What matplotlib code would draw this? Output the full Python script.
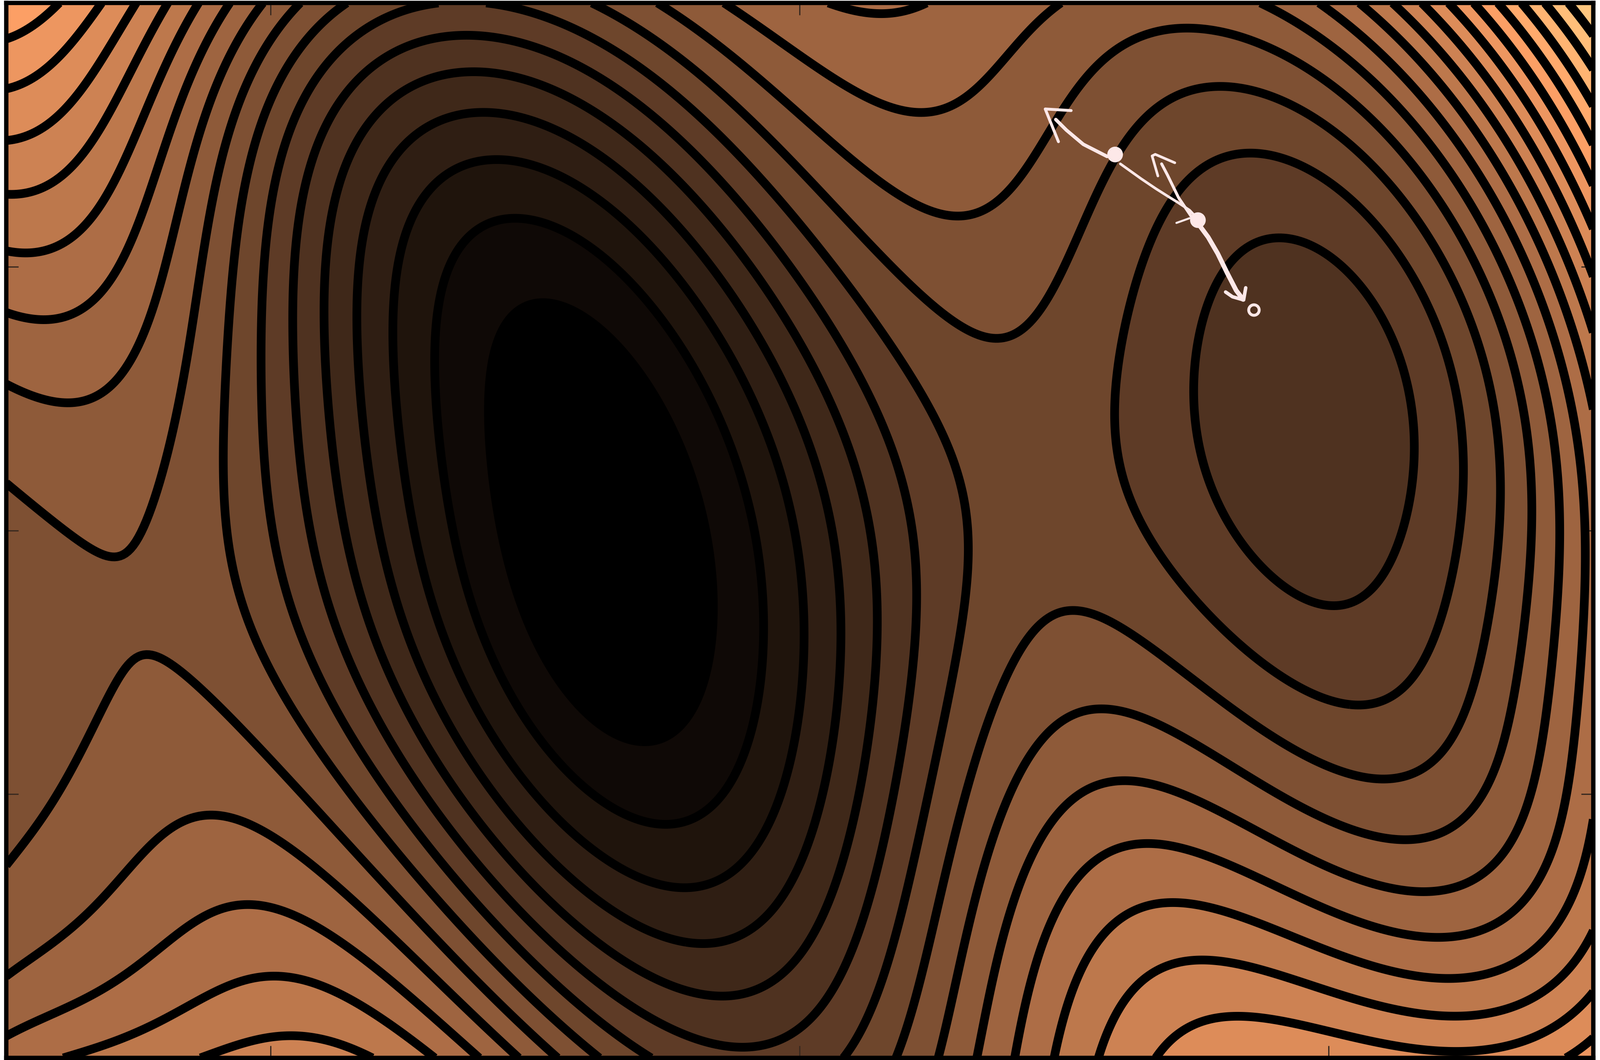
import numpy as np
import matplotlib
matplotlib.use("Agg")
import matplotlib.pyplot as plt

# ---------------- data ----------------
# contour crossings (x, y, level index); level spacing = 1, 20 drawn levels
cross_pts = [
    # row y ~ -0.02
    (-1.417, -0.02, 9), (-1.25, -0.02, 9), (-1.072, -0.02, 8), (-0.993, -0.02, 7),
    (-0.919, -0.02, 6), (-0.851, -0.02, 5), (-0.787, -0.02, 4), (-0.722, -0.02, 3),
    (-0.654, -0.02, 2), (-0.576, -0.02, 1),
    (-0.173, -0.026, 1), (-0.093, -0.026, 2), (-0.014, -0.026, 3), (0.059, -0.026, 4),
    (0.132, -0.026, 5), (0.214, -0.026, 6), (0.322, -0.026, 7),
    (0.69, -0.03, 7), (0.866, -0.03, 6), (1.139, -0.03, 6), (1.249, -0.03, 7),
    (1.321, -0.03, 8), (1.38, -0.03, 9), (1.43, -0.03, 10), (1.478, -0.03, 11),
    # column x = -0.33
    (-0.33, 0.348, 1), (-0.33, 0.479, 2), (-0.33, 0.584, 3), (-0.33, 0.676, 4),
    (-0.33, 0.759, 5), (-0.33, 0.834, 6), (-0.33, 0.907, 7), (-0.33, 0.976, 8),
    (-0.33, -0.386, 1), (-0.33, -0.526, 2), (-0.33, -0.645, 3), (-0.33, -0.739, 4),
    (-0.33, -0.825, 5), (-0.33, -0.9, 6), (-0.33, -0.96, 7),
    # black region outline
    (-0.479, 0.382, 1), (-0.261, -0.424, 1), (-0.6, 0.15, 1), (-0.149, -0.193, 1),
    (-0.569, 0.289, 1), (-0.357, 0.356, 1),
    # top edge
    (-1.406, 0.995, 16), (-1.321, 0.995, 15), (-1.256, 0.995, 14), (-1.192, 0.995, 13),
    (-1.135, 0.995, 12), (-1.078, 0.995, 11), (-1.02, 0.995, 10), (-0.955, 0.995, 9),
    (-0.893, 0.995, 8),
    (0.887, 0.995, 10), (0.992, 0.995, 11), (1.059, 0.995, 12), (1.12, 0.995, 13),
    (1.176, 0.995, 14), (1.228, 0.995, 15), (1.275, 0.995, 16), (1.317, 0.995, 17),
    (1.363, 0.995, 18), (1.41, 0.995, 19), (1.461, 0.995, 20),
    (-0.318, 0.996, 9), (-0.249, 0.96, 9),
    # left edge
    (-1.495, 0.926, 16), (-1.495, 0.837, 15), (-1.495, 0.744, 14), (-1.495, 0.643, 13),
    (-1.495, 0.075, 9), (-1.495, -0.828, 10), (-1.495, -0.952, 11),
    # left saddle
    (-1.303, -0.087, 9), (-1.212, 0.133, 9), (-1.245, -0.222, 9),
    # right edge, upper part
    (1.497, 0.956, 20), (1.497, 0.881, 19), (1.497, 0.807, 18), (1.497, 0.725, 17),
    (1.497, 0.649, 16),
    # bottom-right corner
    (1.096, -0.75, 11), (1.202, -0.772, 11), (1.335, -0.74, 11),
    (1.096, -0.828, 12), (1.229, -0.852, 12), (1.362, -0.806, 12), (1.441, -0.74, 12),
    (1.096, -0.902, 13), (1.242, -0.925, 13), (1.388, -0.878, 13), (1.497, -0.756, 13),
    (1.096, -0.968, 14), (1.255, -0.989, 14), (1.415, -0.952, 14), (1.497, -0.867, 14),
    (1.454, -0.995, 15), (1.497, -0.97, 15),
    # bottom-left corner
    (-1.362, -0.74, 10), (-1.333, -0.889, 11), (-1.233, -0.802, 11), (-1.152, -0.74, 11),
    (-1.333, -0.995, 12), (-1.031, -0.841, 12), (-0.882, -0.889, 12),
    (-1.16, -0.995, 13), (-1.002, -0.952, 13), (-0.882, -0.98, 13),
    # top-right rings
    (0.779, 0.837, 8), (0.919, 0.828, 8), (0.779, 0.949, 9), (0.966, 0.921, 9),
    (0.779, 0.7, 7), (0.919, 0.677, 7),
    # the two U-shaped lines above the pass between the wells
    (0.347, 0.389, 8), (0.44, 0.44, 8), (0.53, 0.56, 8), (0.63, 0.69, 8),
    (0.22, 0.46, 8), (0.03, 0.66, 8),
    (0.28, 0.593, 9), (0.4, 0.64, 9), (0.55, 0.79, 9), (0.13, 0.7, 9),
    # bump below the pass
    (0.53, -0.183, 8),
]

# points read at the small scale (less sure, lower weight)
rough_pts = [
    (-1.495, 0.54, 12), (-1.495, 0.42, 11), (-1.495, 0.26, 10), (-1.495, -0.65, 9),
    (1.497, 0.57, 15), (1.497, 0.504, 14), (1.497, 0.443, 13), (1.497, 0.382, 12),
    (1.481, 0.978, 20), (1.43, 0.904, 18), (1.388, 0.824, 16), (1.338, 0.752, 14),
    (0.747, 0.231, 6), (0.782, 0.096, 6), (0.975, -0.145, 6), (1.052, -0.154, 6),
    (1.158, 0.039, 6), (1.149, 0.193, 6), (1.091, 0.347, 6), (0.994, 0.472, 6),
    (0.898, 0.516, 6), (0.801, 0.482, 6), (0.753, 0.385, 6),
    (1.129, 0.617, 7), (1.226, 0.462, 7), (1.264, 0.27, 7), (1.226, -0.193, 7),
    (1.129, -0.308, 7), (1.014, -0.337, 7),
    (1.059, 0.762, 8),
    # shallow cap touching the top edge in the middle
    (-0.1, 0.995, 10), (0.42, 0.995, 10),
]

# values read inside bands (band k lies between level k and k+1)
band_pts = [
    (-0.395, -0.02, -0.3), (0.96, 0.17, 5.45), (1.02, 0.05, 5.45), (0.9, 0.3, 5.45),
    (1.08, -0.06, 5.5), (0.84, 0.38, 5.5), (0.48, 0.1, 7.5), (0.45, 0.25, 7.5),
    (0.48, -0.05, 7.5), (-1.27, -0.155, 8.6), (-1.495, 0.0, 8.6), (-1.495, -0.2, 8.4),
    (-1.495, -0.4, 8.5), (-1.495, -0.55, 8.8), (-1.4, -0.15, 8.5),
    (-1.5, 1.0, 16.6), (1.5, 1.0, 20.6), (-1.5, -1.0, 11.4), (1.5, -1.0, 15.3),
    (-0.33, -1.0, 7.8), (0.15, 0.995, 10.4), (0.65, 0.99, 9.6), (-0.2, 0.99, 9.5),
]

# starting shapes of the wells: centre, minor/major width, tilt (deg)
well_cx = [-0.395, 1.0, -1.9]
well_cy = [-0.02, 0.15, -0.4]
well_sig_minor = [0.30, 0.22, 0.30]
well_sig_major = [0.55, 0.38, 0.55]
well_tilt_deg = [15.0, 30.0, 15.0]

n_levels = 20
x_lim = (-1.5, 1.5)
y_lim = (-1.0, 1.0)
x_ticks = [-1, 0, 1]
y_ticks = [-0.5, 0, 0.5]

# hand-drawn annotation strokes (data coordinates)
arrow1_x = [0.581, 0.536, 0.504, 0.484]
arrow1_y = [0.709, 0.732, 0.759, 0.779]
head1_x = [0.513, 0.464, 0.489]
head1_y = [0.796, 0.799, 0.737]
link_x = [0.606, 0.645, 0.673, 0.695, 0.716, 0.737, 0.751]
link_y = [0.695, 0.667, 0.648, 0.634, 0.621, 0.607, 0.592]
arrow2_x = [0.741, 0.716, 0.695, 0.684]
arrow2_y = [0.594, 0.631, 0.674, 0.695]
head2_x = [0.677, 0.666, 0.672, 0.709]
head2_y = [0.672, 0.710, 0.713, 0.697]
tick_x = [0.712, 0.737]
tick_y = [0.583, 0.592]
arrow3_x = [0.755, 0.772, 0.79, 0.808, 0.825, 0.838]
arrow3_y = [0.579, 0.556, 0.525, 0.488, 0.455, 0.438]
head3_x = [0.805, 0.818, 0.839, 0.843]
head3_y = [0.452, 0.443, 0.437, 0.46]
dots_x = [0.596, 0.752]
dots_y = [0.713, 0.589]
ring_x = [0.858]
ring_y = [0.418]


# ---------------- smooth surface through the read values ----------------
def poly_cols(x, y):
    return [(x ** i) * (y ** j) for i in range(5) for j in range(5 - i)]


def well_cols(x, y, p):
    cx, cy, lsa, lsb, t = p
    dx, dy = x - cx, y - cy
    u = dx * np.cos(t) + dy * np.sin(t)
    v = -dx * np.sin(t) + dy * np.cos(t)
    q = (u / np.exp(lsa)) ** 2 + (v / np.exp(lsb)) ** 2
    return [np.exp(-0.5 * q), np.exp(-0.5 * q / 2.56)]


def design(x, y, theta):
    cols = poly_cols(x, y)
    for k in range(len(well_cx)):
        cols += well_cols(x, y, theta[5 * k:5 * k + 5])
    return np.stack(cols, axis=-1)


theta0 = []
for k in range(len(well_cx)):
    theta0 += [well_cx[k], well_cy[k], np.log(well_sig_minor[k]),
               np.log(well_sig_major[k]), np.deg2rad(well_tilt_deg[k])]
theta0 = np.array(theta0)

pts = np.array(cross_pts + rough_pts + band_pts, dtype=float)
wts = np.concatenate([np.ones(len(cross_pts)), 0.5 * np.ones(len(rough_pts)),
                      0.6 * np.ones(len(band_pts))])
px, py, pv = pts[:, 0], pts[:, 1], pts[:, 2]
prior_w = 0.8


def fit_linear(theta):
    A = design(px, py, theta) * wts[:, None]
    b = pv * wts
    nrm = np.sqrt((A ** 2).sum(0)) + 1e-12
    An = A / nrm
    c = np.linalg.solve(An.T @ An + 1e-6 * np.eye(An.shape[1]), An.T @ b)
    return An @ c - b, c / nrm


def residual(theta):
    r, _ = fit_linear(theta)
    return np.concatenate([r, prior_w * (theta - theta0)])


theta = theta0.copy()
mu = 1e-2
r = residual(theta)
cost = r @ r
for it in range(150):
    J = np.empty((len(r), len(theta)))
    for k in range(len(theta)):
        tk = theta.copy()
        tk[k] += 1e-5
        J[:, k] = (residual(tk) - r) / 1e-5
    g = J.T @ r
    H = J.T @ J
    while True:
        step = -np.linalg.solve(H + mu * np.diag(np.diag(H) + 1e-9), g)
        tn = theta + step
        rn = residual(tn)
        cn = rn @ rn
        if cn < cost:
            theta, r, cost = tn, rn, cn
            mu = max(mu / 3, 1e-7)
            break
        mu *= 4
        if mu > 1e6:
            break
    if mu > 1e6:
        break

_, coef = fit_linear(theta)
gx = np.linspace(x_lim[0], x_lim[1], 601)
gy = np.linspace(y_lim[0], y_lim[1], 401)
X, Y = np.meshgrid(gx, gy)
Z = design(X, Y, theta) @ coef

# ---------------- drawing ----------------
fig = plt.figure(figsize=(38.26, 25.35), dpi=100)
ax = fig.add_axes([0.0039, 0.002, 0.9919, 0.9952])

line_levels = np.arange(1, n_levels + 1)
fill_levels = np.concatenate([[-1e4], line_levels, [1e4]])
cmap = plt.get_cmap("copper")
band_colors = [cmap(k / n_levels) for k in range(n_levels + 1)]
ax.contourf(X, Y, Z, levels=fill_levels, colors=band_colors)
ax.contour(X, Y, Z, levels=line_levels, colors="black", linewidths=15)

stroke = "#fde8e8"
kw = dict(color=stroke, solid_capstyle="round", solid_joinstyle="round")
ax.plot(arrow1_x, arrow1_y, lw=6, **kw)
ax.plot(head1_x, head1_y, lw=5, **kw)
ax.plot(link_x, link_y, lw=4.5, **kw)
ax.plot(arrow2_x, arrow2_y, lw=5, **kw)
ax.plot(head2_x, head2_y, lw=4.5, **kw)
ax.plot(tick_x, tick_y, lw=3.5, **kw)
ax.plot(arrow3_x, arrow3_y, lw=8, **kw)
ax.plot(head3_x, head3_y, lw=6, **kw)
ax.plot(dots_x, dots_y, "o", ms=26, color=stroke)
ax.plot(ring_x, ring_y, "o", ms=18, mfc="none", mec=stroke, mew=5)

ax.set_xlim(*x_lim)
ax.set_ylim(*y_lim)
ax.set_xticks(x_ticks)
ax.set_yticks(y_ticks)
ax.tick_params(direction="in", length=21, width=2.2, color="#3a2a20",
               top=True, right=True, labelbottom=False, labelleft=False)
for s in ax.spines.values():
    s.set_linewidth(7.5)
    s.set_color("black")

fig.savefig("out.png", dpi=100)
